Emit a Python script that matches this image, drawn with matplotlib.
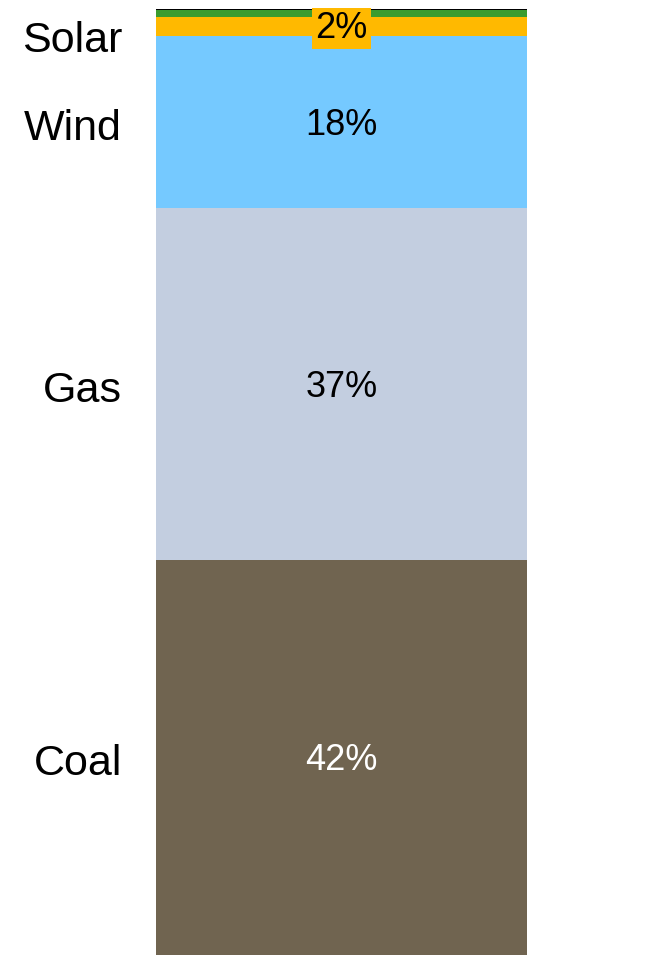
import matplotlib
matplotlib.use("Agg")
import matplotlib.pyplot as plt

categories = ["Coal", "Gas", "Wind", "Solar", "Other", "Other2"]
values = [41.8, 37.2, 18.1, 2.1, 0.7, 0.1]
colors = ["#706450", "#c3cee0", "#75c9ff", "#ffb900", "#3a9c2f", "#000000"]
pct_labels = ["42%", "37%", "18%", "2%", None, None]
pct_colors = ["white", "black", "black", "black", None, None]
side_labels = ["Coal", "Gas", "Wind", "Solar", None, None]

plt.rcParams['font.family'] = ['Liberation Sans', 'DejaVu Sans']

LABEL_FS = 31
PCT_FS = 26
CAP = 0.716

fig = plt.figure(figsize=(6.69, 9.55), dpi=100)
total = sum(values)
ax = fig.add_axes([156/669, 0, 371/669, 946/955])
ax.set_xlim(0, 1)
ax.set_ylim(0, total)
ax.axis('off')

bottom = 0
for cat, v, c, pl, pc, sl in zip(categories, values, colors, pct_labels, pct_colors, side_labels):
    ax.bar(0.5, v, width=1.0, bottom=bottom, color=c, linewidth=0)
    mid = bottom + v / 2
    if pl:
        kw = {}
        if cat == "Solar":
            kw['bbox'] = dict(facecolor=c, edgecolor='none', pad=2)
        ax.annotate(pl, (0.5, mid), xytext=(0, -PCT_FS * CAP / 2 - (-1 if cat == "Solar" else 0)),
                    textcoords='offset points', ha='center', va='baseline',
                    fontsize=PCT_FS, color=pc, **kw)
    if sl:
        dy = -7 if cat == "Solar" else -2
        ax.annotate(sl, (0, mid), xytext=(-34 * 0.72, -LABEL_FS * CAP / 2 + dy),
                    textcoords='offset points', ha='right', va='baseline',
                    fontsize=LABEL_FS, color='black', annotation_clip=False)
    bottom += v

fig.savefig("out.png", dpi=100)
